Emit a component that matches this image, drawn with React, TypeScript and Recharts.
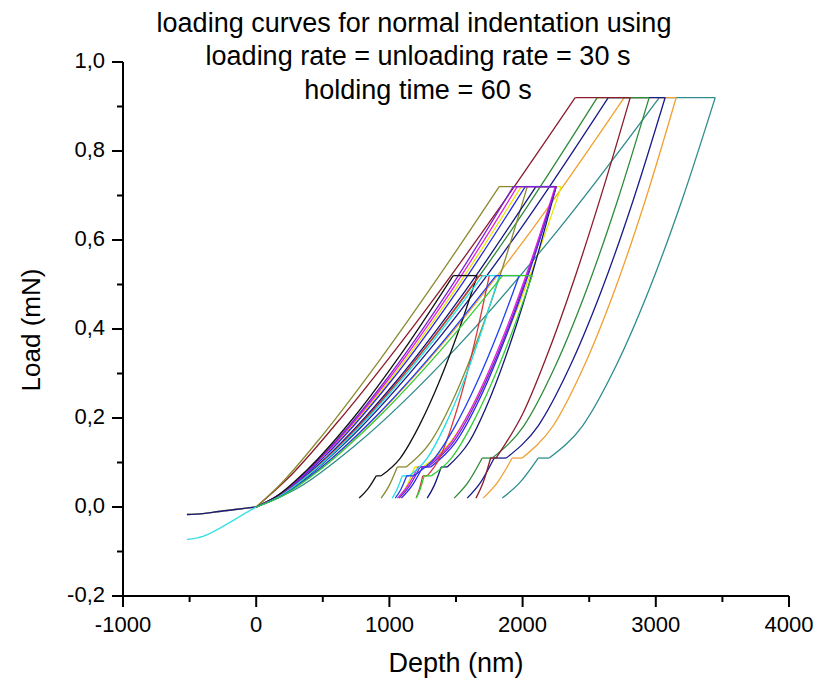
import React from "react";
import { LineChart, Line, XAxis, YAxis } from "recharts";

// depth (nm), load (mN)
const preloadDark = [[-520, -0.017], [-400, -0.015], [-280, -0.01], [-140, -0.005], [0, 0]];
const preloadCyan = [[-520, -0.073], [-400, -0.066], [-300, -0.052], [-200, -0.035], [-100, -0.017], [0, 0]];

// every curve: loading (0-5), hold (5-6), unloading (6-11), plateau (11-12), tail (12-14)
// peak 0.92 mN
const brownCurve = [[0, 0], [240, 0.065], [600, 0.187], [1200, 0.414], [1800, 0.661], [2395, 0.92], [2808, 0.92], [2606, 0.716], [2405, 0.527], [2203, 0.356], [2002, 0.21], [1800, 0.11], [1760, 0.11], [1705, 0.056], [1650, 0.02]];
const greenCurve = [[0, 0], [256, 0.041], [640, 0.142], [1280, 0.361], [1920, 0.624], [2560, 0.92], [2950, 0.92], [2714, 0.69], [2479, 0.487], [2243, 0.315], [2008, 0.182], [1772, 0.11], [1697, 0.11], [1592, 0.056], [1486, 0.02]];
const navyCurve = [[0, 0], [264, 0.041], [661, 0.142], [1322, 0.361], [1982, 0.624], [2643, 0.92], [3070, 0.92], [2831, 0.69], [2593, 0.487], [2354, 0.315], [2116, 0.182], [1877, 0.11], [1787, 0.11], [1686, 0.056], [1584, 0.02]];
const orangeCurve = [[0, 0], [276, 0.041], [691, 0.142], [1382, 0.361], [2072, 0.624], [2763, 0.92], [3153, 0.92], [2922, 0.69], [2691, 0.487], [2459, 0.315], [2228, 0.182], [1997, 0.11], [1922, 0.11], [1813, 0.056], [1704, 0.02]];
const tealCurve = [[0, 0], [303, 0.041], [757, 0.142], [1513, 0.361], [2270, 0.624], [3026, 0.92], [3446, 0.92], [3197, 0.69], [2948, 0.487], [2698, 0.315], [2449, 0.182], [2200, 0.11], [2117, 0.11], [1982, 0.056], [1847, 0.02]];

// peak 0.72 mN
const oliveCurve = [[0, 0], [182, 0.051], [456, 0.146], [912, 0.324], [1368, 0.517], [1824, 0.72], [2035, 0.72], [1853, 0.541], [1671, 0.383], [1490, 0.249], [1308, 0.146], [1126, 0.09], [1059, 0.09], [998, 0.048], [938, 0.02]];
const purpleCurve = [[0, 0], [193, 0.032], [483, 0.111], [965, 0.282], [1448, 0.488], [1930, 0.72], [2252, 0.72], [2059, 0.541], [1866, 0.383], [1673, 0.249], [1480, 0.146], [1287, 0.09], [1230, 0.09], [1152, 0.048], [1073, 0.02]];
const magentaCurve = [[0, 0], [196, 0.032], [490, 0.111], [980, 0.282], [1470, 0.488], [1960, 0.72], [2245, 0.72], [2050, 0.541], [1855, 0.383], [1660, 0.249], [1465, 0.146], [1270, 0.09], [1215, 0.09], [1138, 0.048], [1060, 0.02]];
const yellowCurve = [[0, 0], [199, 0.032], [498, 0.111], [995, 0.282], [1493, 0.488], [1990, 0.72], [2290, 0.72], [2082, 0.541], [1874, 0.383], [1666, 0.249], [1458, 0.146], [1250, 0.09], [1190, 0.09], [1132, 0.048], [1075, 0.02]];
const navy2Curve = [[0, 0], [210, 0.032], [525, 0.111], [1050, 0.282], [1575, 0.488], [2100, 0.72], [2252, 0.72], [2088, 0.541], [1925, 0.383], [1761, 0.249], [1598, 0.146], [1434, 0.09], [1389, 0.09], [1336, 0.048], [1284, 0.02]];
const blue2Curve = [[0, 0], [202, 0.032], [505, 0.111], [1010, 0.282], [1515, 0.488], [2020, 0.72], [2252, 0.72], [2064, 0.541], [1875, 0.383], [1687, 0.249], [1498, 0.146], [1310, 0.09], [1250, 0.09], [1170, 0.048], [1090, 0.02]];

// peak 0.52 mN
const blackCurve = [[0, 0], [148, 0.023], [370, 0.08], [740, 0.204], [1109, 0.353], [1479, 0.52], [1659, 0.52], [1515, 0.392], [1371, 0.279], [1226, 0.184], [1082, 0.11], [938, 0.07], [901, 0.07], [837, 0.04], [773, 0.02]];
const cyanCurve = [[0, 0], [170, 0.023], [425, 0.08], [850, 0.204], [1275, 0.353], [1700, 0.52], [1824, 0.52], [1689, 0.392], [1554, 0.279], [1419, 0.184], [1284, 0.11], [1149, 0.07], [1096, 0.07], [1058, 0.04], [1021, 0.02]];
const redCurve = [[0, 0], [167, 0.023], [419, 0.08], [837, 0.204], [1256, 0.353], [1674, 0.52], [1750, 0.52], [1657, 0.392], [1564, 0.279], [1470, 0.184], [1377, 0.11], [1284, 0.07], [1250, 0.07], [1225, 0.04], [1201, 0.02]];
const blueCurve = [[0, 0], [180, 0.023], [450, 0.08], [900, 0.204], [1350, 0.353], [1800, 0.52], [1974, 0.52], [1815, 0.392], [1656, 0.279], [1498, 0.184], [1339, 0.11], [1180, 0.07], [1130, 0.07], [1087, 0.04], [1044, 0.02]];
const limeCurve = [[0, 0], [185, 0.023], [463, 0.08], [925, 0.204], [1388, 0.353], [1850, 0.52], [2072, 0.52], [1920, 0.392], [1769, 0.279], [1617, 0.184], [1466, 0.11], [1314, 0.07], [1261, 0.07], [1231, 0.04], [1201, 0.02]];

const xTicks = [-1000, -500, 0, 500, 1000, 1500, 2000, 2500, 3000, 3500, 4000];
const yTicks = [-0.2, -0.1, 0, 0.1, 0.2, 0.3, 0.4, 0.5, 0.6, 0.7, 0.8, 0.9, 1.0];

const preloads = [
  { name: "pre-green", pts: preloadDark, color: "#44d044" },
  { name: "pre-orange", pts: preloadDark, color: "#e89a30" },
  { name: "pre-navy", pts: preloadDark, color: "#1a1a8a" },
  { name: "pre-cyan", pts: preloadCyan, color: "#3ee0e6" },
];

const curves = [
  { name: "teal", pts: tealCurve, color: "#2f8c8c" },
  { name: "orange", pts: orangeCurve, color: "#f0a030" },
  { name: "navy", pts: navyCurve, color: "#1a1a8a" },
  { name: "green", pts: greenCurve, color: "#2e8b3a" },
  { name: "brown", pts: brownCurve, color: "#8b1c2c" },
  { name: "olive", pts: oliveCurve, color: "#8a8a30" },
  { name: "yellow", pts: yellowCurve, color: "#e6e600" },
  { name: "navy2", pts: navy2Curve, color: "#14147a" },
  { name: "blue2", pts: blue2Curve, color: "#2828e6" },
  { name: "magenta", pts: magentaCurve, color: "#e022e0" },
  { name: "purple", pts: purpleCurve, color: "#7a22d0" },
  { name: "black", pts: blackCurve, color: "#111111" },
  { name: "red", pts: redCurve, color: "#d83838" },
  { name: "cyan", pts: cyanCurve, color: "#22dde8" },
  { name: "blue", pts: blueCurve, color: "#2040f0" },
  { name: "lime", pts: limeCurve, color: "#33cc33" },
];

// split at the corners so each smooth piece runs one way in x
const pieces = (pts: number[][]) => [
  { part: "load", rows: pts.slice(0, 6), curve: "monotone" },
  { part: "hold", rows: pts.slice(5, 7), curve: "linear" },
  { part: "unload", rows: pts.slice(6, 12), curve: "monotone" },
  { part: "step", rows: pts.slice(11, 13), curve: "linear" },
  { part: "tail", rows: pts.slice(12, 15), curve: "monotone" },
];

const toRows = (pts: number[][]) => pts.map(([x, y]) => ({ x, y }));

const font = "'Liberation Sans', Arial, sans-serif";

const YTick = (props: any) => {
  const { x, y, payload } = props;
  const major = Math.round(payload.value * 10) % 2 === 0;
  return (
    <g>
      <line x1={x - (major ? 11 : 6)} x2={x} y1={y} y2={y} stroke="#000" strokeWidth={2} />
      {major && (
        <text x={x - 18} y={y + 6} textAnchor="end" fontSize={22} fontFamily={font} fill="#000">
          {payload.value.toFixed(1).replace(".", ",")}
        </text>
      )}
    </g>
  );
};

const XTick = (props: any) => {
  const { x, y, payload } = props;
  const major = payload.value % 1000 === 0;
  return (
    <g>
      <line x1={x} x2={x} y1={y} y2={y + (major ? 11 : 6)} stroke="#000" strokeWidth={2} />
      {major && (
        <text x={x} y={y + 36} textAnchor="middle" fontSize={22} fontFamily={font} fill="#000">
          {payload.value}
        </text>
      )}
    </g>
  );
};

export default function App() {
  return (
    <div style={{ position: "absolute", left: 0, top: 0, width: 818, height: 682, background: "#fff" }}>
      <LineChart width={818} height={682} margin={{ top: 62, right: 29, bottom: 56, left: 63 }}>
        <XAxis
          type="number"
          dataKey="x"
          domain={[-1000, 4000]}
          ticks={xTicks}
          height={30}
          tickSize={0}
          tickMargin={0}
          tickLine={false}
          axisLine={{ stroke: "#000", strokeWidth: 2 }}
          tick={<XTick />}
          interval={0}
        />
        <YAxis
          type="number"
          domain={[-0.2, 1]}
          ticks={yTicks}
          width={60}
          tickSize={0}
          tickMargin={0}
          tickLine={false}
          axisLine={{ stroke: "#000", strokeWidth: 2 }}
          tick={<YTick />}
          interval={0}
        />
        {preloads.map((s) => (
          <Line
            key={s.name}
            data={toRows(s.pts)}
            dataKey="y"
            type="monotone"
            stroke={s.color}
            strokeWidth={1.4}
            dot={false}
            activeDot={false}
            isAnimationActive={false}
          />
        ))}
        {curves.flatMap((s) =>
          pieces(s.pts).map((p) => (
            <Line
              key={s.name + "-" + p.part}
              data={toRows(p.rows)}
              dataKey="y"
              type={p.curve as any}
              stroke={s.color}
              strokeWidth={1.3}
              dot={false}
              activeDot={false}
              isAnimationActive={false}
            />
          ))
        )}
      </LineChart>
      <svg width={818} height={682} style={{ position: "absolute", left: 0, top: 0, pointerEvents: "none" }}>
        <g fontFamily={font} fill="#000" textAnchor="middle">
          <text x={414} y={32} fontSize={27}>loading curves for normal indentation using</text>
          <text x={418} y={65} fontSize={27}>loading rate = unloading rate = 30 s</text>
          <text x={418} y={99} fontSize={27}>holding time = 60 s</text>
          <text x={456} y={672} fontSize={27}>Depth (nm)</text>
          <text x={40} y={330} fontSize={26} transform="rotate(-90 40 330)">Load (mN)</text>
        </g>
      </svg>
    </div>
  );
}
